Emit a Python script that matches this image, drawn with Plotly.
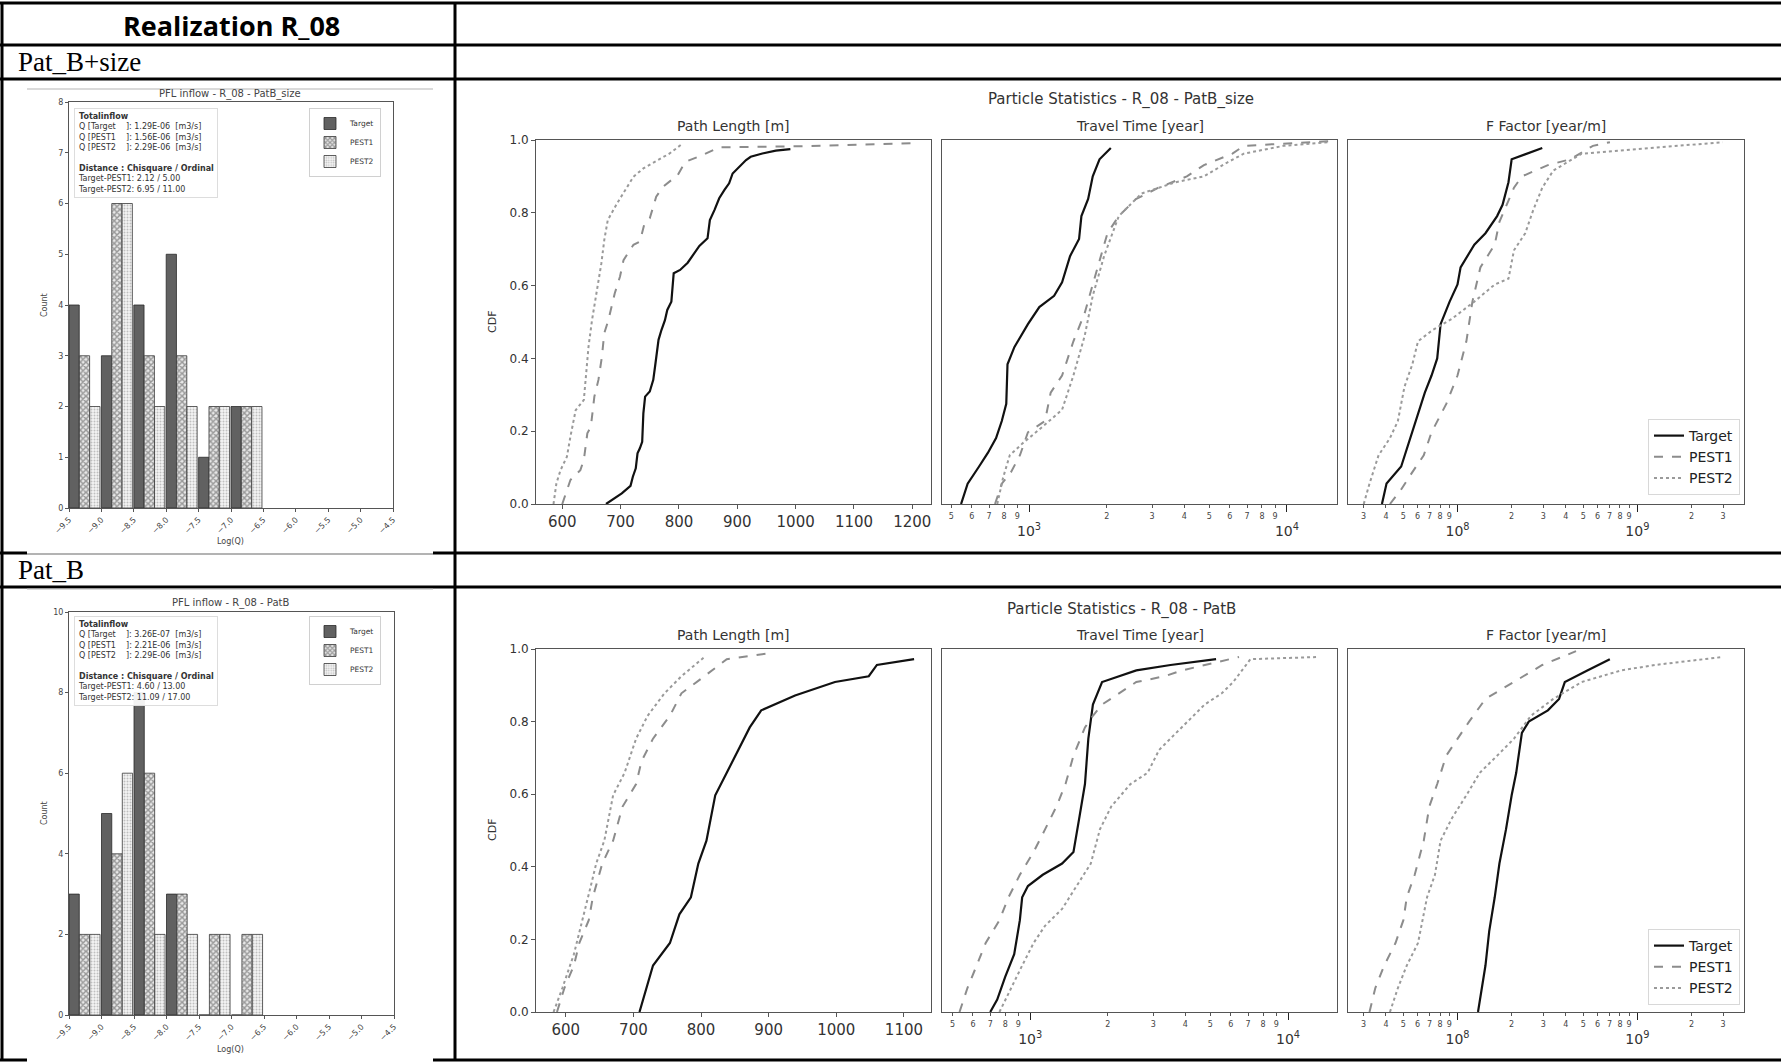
import plotly.graph_objects as go

W, H = 1781, 1062

# ---------------- histogram data ----------------
bins = [-9.5, -9.0, -8.5, -8.0, -7.5, -7.0]
top_target_counts = [4, 3, 4, 5, 1, 2]
top_pest1_counts = [3, 6, 3, 3, 2, 2]
top_pest2_counts = [2, 6, 2, 2, 2, 2]
bot_target_counts = [3, 5, 8, 3, 0, 0]
bot_pest1_counts = [2, 4, 6, 3, 2, 2]
bot_pest2_counts = [2, 6, 2, 2, 2, 2]
hist_ticks = [-9.5, -9.0, -8.5, -8.0, -7.5, -7.0, -6.5, -6.0, -5.5, -5.0, -4.5]

top_q = ["1.29E-06", "1.56E-06", "2.29E-06"]
top_dist = ["2.12 / 5.00", "6.95 / 11.00"]
bot_q = ["3.26E-07", "2.21E-06", "2.29E-06"]
bot_dist = ["4.60 / 13.00", "11.09 / 17.00"]

# ---------------- CDF data: Pat_B+size (top row) ----------------
top_len_target_x = [675, 685, 702, 717, 721, 726, 729, 733, 737, 739, 742, 750, 756, 759, 762, 765, 770, 776, 780, 787, 791, 802, 815, 827, 835, 849, 853, 861, 869, 878, 886, 892, 903, 915, 923, 943, 966, 991]
top_len_target_y = [0.0, 0.011, 0.029, 0.05, 0.075, 0.098, 0.139, 0.153, 0.171, 0.249, 0.295, 0.309, 0.341, 0.377, 0.423, 0.451, 0.478, 0.505, 0.533, 0.556, 0.634, 0.643, 0.663, 0.689, 0.709, 0.73, 0.78, 0.808, 0.84, 0.863, 0.881, 0.908, 0.927, 0.945, 0.954, 0.963, 0.971, 0.975]
top_len_pest1_x = [600, 606, 614, 631, 637, 643, 649, 655, 662, 668, 672, 679, 690, 699, 705, 722, 733, 741, 750, 761, 773, 798, 811, 841, 869, 1011, 1201]
top_len_pest1_y = [0.0, 0.029, 0.066, 0.093, 0.121, 0.194, 0.212, 0.295, 0.341, 0.405, 0.469, 0.505, 0.579, 0.625, 0.67, 0.712, 0.721, 0.771, 0.785, 0.844, 0.872, 0.904, 0.94, 0.959, 0.98, 0.983, 0.991]
top_len_pest2_x = [585, 590, 597, 608, 614, 623, 637, 640, 645, 651, 657, 662, 667, 672, 678, 694, 708, 722, 739, 764, 784, 807]
top_len_pest2_y = [0.0, 0.057, 0.093, 0.13, 0.185, 0.258, 0.286, 0.35, 0.432, 0.505, 0.56, 0.615, 0.661, 0.725, 0.78, 0.826, 0.863, 0.899, 0.922, 0.945, 0.963, 0.991]

top_time_target_x = [545, 578, 640, 693, 745, 784, 816, 825, 877, 990, 1096, 1251, 1343, 1442, 1563, 1596, 1695, 1766, 1876, 2075]
top_time_target_y = [0.0, 0.056, 0.103, 0.141, 0.181, 0.228, 0.275, 0.384, 0.431, 0.494, 0.541, 0.572, 0.609, 0.681, 0.728, 0.791, 0.838, 0.9, 0.947, 0.978]
top_time_pest1_x = [738, 784, 851, 922, 990, 1153, 1213, 1343, 1486, 1644, 1766, 1876, 2014, 2228, 2594, 3177, 4091, 4765, 6146, 6802, 14550]
top_time_pest1_y = [0.0, 0.056, 0.0875, 0.134, 0.197, 0.228, 0.306, 0.353, 0.447, 0.525, 0.603, 0.666, 0.744, 0.791, 0.8375, 0.869, 0.9, 0.931, 0.9625, 0.984, 0.997]
top_time_pest2_x = [753, 793, 842, 942, 1129, 1343, 1486, 1644, 1766, 1954, 2228, 2729, 3699, 4765, 5842, 6802, 9709, 14550]
top_time_pest2_y = [0.0, 0.072, 0.134, 0.166, 0.2125, 0.259, 0.353, 0.4625, 0.572, 0.681, 0.791, 0.853, 0.884, 0.9, 0.9375, 0.9625, 0.984, 0.994]

top_ff_target_x = [3.8e7, 4.03e7, 4.86e7, 5.22e7, 5.61e7, 6.03e7, 6.58e7, 7.17e7, 7.71e7, 8.05e7, 9.04e7, 1.0e8, 1.04e8, 1.24e8, 1.43e8, 1.66e8, 1.78e8, 1.92e8, 2.0e8, 2.96e8]
top_ff_target_y = [0.0, 0.056, 0.103, 0.15, 0.197, 0.244, 0.306, 0.353, 0.4, 0.494, 0.556, 0.603, 0.65, 0.7125, 0.744, 0.791, 0.822, 0.884, 0.947, 0.978]
top_ff_pest1_x = [4.21e7, 4.86e7, 5.61e7, 6.49e7, 7.17e7, 8.66e7, 1.0e8, 1.12e8, 1.21e8, 1.34e8, 1.61e8, 1.71e8, 2.06e8, 2.28e8, 3.18e8, 4.24e8, 5.66e8, 7.04e8]
top_ff_pest1_y = [0.0, 0.04, 0.0875, 0.134, 0.197, 0.275, 0.353, 0.447, 0.556, 0.65, 0.7125, 0.775, 0.869, 0.9, 0.931, 0.947, 0.984, 0.994]
top_ff_pest2_x = [3.01e7, 3.24e7, 3.64e7, 4.21e7, 4.66e7, 5.07e7, 5.61e7, 6.03e7, 7.28e7, 9.31e7, 1.24e8, 1.61e8, 1.92e8, 2.06e8, 2.38e8, 2.63e8, 2.96e8, 3.41e8, 4.9e8, 1.25e9, 2.98e9]
top_ff_pest2_y = [0.0, 0.056, 0.134, 0.181, 0.228, 0.322, 0.384, 0.447, 0.478, 0.509, 0.556, 0.603, 0.619, 0.697, 0.744, 0.806, 0.869, 0.916, 0.9625, 0.978, 0.994]

# ---------------- CDF data: Pat_B (bottom row) ----------------
bot_len_target_x = [709, 729, 754, 768, 785, 796, 808, 821, 838, 855, 872, 889, 909, 939, 998, 1048, 1060, 1115]
bot_len_target_y = [0.0, 0.128, 0.19, 0.269, 0.316, 0.409, 0.472, 0.597, 0.659, 0.722, 0.784, 0.831, 0.847, 0.872, 0.909, 0.925, 0.956, 0.972]
bot_len_pest1_x = [587, 598, 612, 620, 634, 640, 654, 670, 684, 704, 712, 729, 754, 771, 805, 838, 897]
bot_len_pest1_y = [0.0, 0.066, 0.128, 0.19, 0.253, 0.316, 0.409, 0.472, 0.566, 0.628, 0.691, 0.753, 0.816, 0.878, 0.925, 0.972, 0.9875]
bot_len_pest2_x = [582, 595, 612, 625, 637, 645, 657, 670, 687, 704, 721, 746, 771, 805]
bot_len_pest2_y = [0.0, 0.066, 0.159, 0.253, 0.347, 0.409, 0.472, 0.597, 0.659, 0.753, 0.816, 0.878, 0.925, 0.978]

bot_time_target_x = [700, 745, 800, 867, 912, 931, 980, 1119, 1330, 1472, 1550, 1631, 1681, 1751, 1900, 2580, 3502, 5260]
bot_time_target_y = [0.0, 0.034, 0.097, 0.159, 0.253, 0.316, 0.347, 0.378, 0.409, 0.441, 0.534, 0.628, 0.753, 0.847, 0.909, 0.941, 0.956, 0.972]
bot_time_pest1_x = [532, 571, 620, 672, 760, 824, 912, 1031, 1142, 1264, 1371, 1472, 1631, 1751, 1900, 2213, 2580, 3327, 3875, 6455]
bot_time_pest1_y = [0.0, 0.066, 0.128, 0.19, 0.253, 0.316, 0.378, 0.441, 0.503, 0.566, 0.628, 0.706, 0.784, 0.816, 0.847, 0.878, 0.909, 0.925, 0.941, 0.978]
bot_time_pest2_x = [760, 842, 931, 1031, 1142, 1330, 1518, 1718, 1864, 2062, 2449, 2855, 3162, 3875, 4750, 5535, 6130, 7150, 13150]
bot_time_pest2_y = [0.0, 0.066, 0.128, 0.19, 0.2375, 0.284, 0.347, 0.409, 0.503, 0.566, 0.628, 0.659, 0.722, 0.784, 0.847, 0.878, 0.909, 0.972, 0.978]

bot_ff_target_x = [1.30e8, 1.37e8, 1.43e8, 1.50e8, 1.61e8, 1.71e8, 1.86e8, 2.0e8, 2.12e8, 2.21e8, 2.28e8, 2.49e8, 3.18e8, 3.67e8, 3.95e8, 5.27e8, 7.03e8]
bot_ff_target_y = [0.0, 0.066, 0.128, 0.222, 0.316, 0.409, 0.503, 0.597, 0.659, 0.722, 0.769, 0.8, 0.831, 0.8625, 0.909, 0.941, 0.972]
bot_ff_pest1_x = [3.24e7, 3.49e7, 3.91e7, 4.52e7, 5.0e7, 5.22e7, 5.78e7, 6.49e7, 6.97e7, 7.71e7, 8.65e7, 1.0e8, 1.16e8, 1.43e8, 2.06e8, 2.96e8, 4.56e8]
bot_ff_pest1_y = [0.0, 0.066, 0.128, 0.19, 0.253, 0.316, 0.378, 0.472, 0.566, 0.628, 0.706, 0.753, 0.8, 0.8625, 0.909, 0.956, 0.994]
bot_ff_pest2_x = [4.21e7, 4.66e7, 5.22e7, 6.03e7, 6.77e7, 7.49e7, 8.05e7, 9.31e7, 1.12e8, 1.33e8, 1.66e8, 2.06e8, 2.56e8, 3.41e8, 4.9e8, 8.13e8, 1.25e9, 2.98e9]
bot_ff_pest2_y = [0.0, 0.066, 0.128, 0.19, 0.316, 0.378, 0.472, 0.534, 0.597, 0.659, 0.706, 0.753, 0.816, 0.8625, 0.909, 0.941, 0.956, 0.978]

cdf_ticks = [0.0, 0.2, 0.4, 0.6, 0.8, 1.0]
len_ticks = [600, 700, 800, 900, 1000, 1100, 1200]
time_minor_ticks = [500, 600, 700, 800, 900, 2000, 3000, 4000, 5000, 6000, 7000, 8000, 9000]
time_minor_text = ["5", "6", "7", "8", "9", "2", "3", "4", "5", "6", "7", "8", "9"]
time_major_ticks = [1000, 10000]
time_major_text = ["10<sup>3</sup>", "10<sup>4</sup>"]
ff_minor_ticks = [2e7, 3e7, 4e7, 5e7, 6e7, 7e7, 8e7, 9e7, 2e8, 3e8, 4e8, 5e8, 6e8, 7e8, 8e8, 9e8, 2e9, 3e9]
ff_minor_text = ["2", "3", "4", "5", "6", "7", "8", "9", "2", "3", "4", "5", "6", "7", "8", "9", "2", "3"]
ff_major_ticks = [1e8, 1e9]
ff_major_text = ["10<sup>8</sup>", "10<sup>9</sup>"]

# ---------------- helpers ----------------
def fx(px):
    return px / W

def fy(py):
    return 1 - py / H

MPL = "DejaVu Sans"
INK = "#333333"
FRAME = "#555555"

fig = go.Figure()

# ---------------- histograms ----------------
hist_sets = [
    ("x", "y", "legend", top_target_counts, top_pest1_counts, top_pest2_counts),
    ("x2", "y2", "legend2", bot_target_counts, bot_pest1_counts, bot_pest2_counts),
]
for xa, ya, lg, tc, p1, p2 in hist_sets:
    fig.add_trace(go.Bar(x=bins, y=tc, name="Target", xaxis=xa, yaxis=ya, legend=lg,
                         width=0.158, offset=0.0,
                         marker=dict(color="#616161", line=dict(color="#2a2a2a", width=0.8))))
    fig.add_trace(go.Bar(x=bins, y=p1, name="PEST1", xaxis=xa, yaxis=ya, legend=lg,
                         width=0.158, offset=0.16,
                         marker=dict(color="white", line=dict(color="#3a3a3a", width=0.8),
                                     pattern=dict(shape="x", fgcolor="#4a4a4a", bgcolor="#e8e8e8",
                                                  size=4, solidity=0.6))))
    fig.add_trace(go.Bar(x=bins, y=p2, name="PEST2", xaxis=xa, yaxis=ya, legend=lg,
                         width=0.158, offset=0.32,
                         marker=dict(color="white", line=dict(color="#3a3a3a", width=0.8),
                                     pattern=dict(shape=".", fgcolor="#8a8a8a", bgcolor="#f4f4f4",
                                                  size=3, solidity=0.35))))

# ---------------- CDF curves ----------------
series_style = {
    "Target": dict(color="#111111", width=2.2, dash="solid"),
    "PEST1": dict(color="#8c8c8c", width=2.0, dash="dash"),
    "PEST2": dict(color="#9a9a9a", width=2.0, dash="dot"),
}
cdf_panels = [
    ("x3", "y3", "legend3", [(top_len_target_x, top_len_target_y), (top_len_pest1_x, top_len_pest1_y), (top_len_pest2_x, top_len_pest2_y)]),
    ("x4", "y4", "legend3", [(top_time_target_x, top_time_target_y), (top_time_pest1_x, top_time_pest1_y), (top_time_pest2_x, top_time_pest2_y)]),
    ("x5", "y5", "legend3", [(top_ff_target_x, top_ff_target_y), (top_ff_pest1_x, top_ff_pest1_y), (top_ff_pest2_x, top_ff_pest2_y)]),
    ("x6", "y6", "legend4", [(bot_len_target_x, bot_len_target_y), (bot_len_pest1_x, bot_len_pest1_y), (bot_len_pest2_x, bot_len_pest2_y)]),
    ("x7", "y7", "legend4", [(bot_time_target_x, bot_time_target_y), (bot_time_pest1_x, bot_time_pest1_y), (bot_time_pest2_x, bot_time_pest2_y)]),
    ("x8", "y8", "legend4", [(bot_ff_target_x, bot_ff_target_y), (bot_ff_pest1_x, bot_ff_pest1_y), (bot_ff_pest2_x, bot_ff_pest2_y)]),
]
for i, (xa, ya, lg, curves) in enumerate(cdf_panels):
    show = xa in ("x5", "x8")
    for name, (cx, cy) in zip(["Target", "PEST1", "PEST2"], curves):
        fig.add_trace(go.Scatter(x=cx, y=cy, mode="lines", name=name, xaxis=xa, yaxis=ya,
                                 legend=lg, showlegend=show, line=series_style[name]))

# empty carrier traces for the decade-label overlay axes
for xa, ya in [("x9", "y4"), ("x10", "y5"), ("x11", "y7"), ("x12", "y8")]:
    fig.add_trace(go.Scatter(x=[], y=[], xaxis=xa, yaxis=ya, showlegend=False, hoverinfo="skip"))

# ---------------- axes ----------------
lay = dict(width=W, height=H, margin=dict(l=0, r=0, t=0, b=0, autoexpand=False),
           paper_bgcolor="white", plot_bgcolor="rgba(0,0,0,0)", showlegend=True,
           font=dict(family=MPL, color=INK), barmode="overlay")

frame = dict(showline=True, mirror=True, linecolor=FRAME, linewidth=1, showgrid=False,
             zeroline=False, ticks="outside", tickcolor=FRAME, automargin=False)

# histogram axes
lay["xaxis"] = dict(frame, domain=[fx(69), fx(393)], anchor="y", range=[-9.5, -4.5],
                    tickvals=hist_ticks, tickformat=".1f", tickangle=-45, ticklen=3,
                    tickfont=dict(size=8, color="#444"))
lay["yaxis"] = dict(frame, domain=[fy(508), fy(102)], anchor="x", range=[0, 8], dtick=1,
                    ticklen=3, tickfont=dict(size=8, color="#444"))
lay["xaxis2"] = dict(frame, domain=[fx(69), fx(394)], anchor="y2", range=[-9.5, -4.5],
                     tickvals=hist_ticks, tickformat=".1f", tickangle=-45, ticklen=3,
                     tickfont=dict(size=8, color="#444"))
lay["yaxis2"] = dict(frame, domain=[fy(1015), fy(612)], anchor="x2", range=[0, 10], dtick=2,
                     ticklen=3, tickfont=dict(size=8, color="#444"))

# CDF axes
col_px = [(536, 931), (942, 1337), (1348, 1744)]
row_py = [(140, 504), (649, 1012)]
log_minor = {"time": (time_minor_ticks, time_minor_text), "ff": (ff_minor_ticks, ff_minor_text)}
log_major = {"time": (time_major_ticks, time_major_text), "ff": (ff_major_ticks, ff_major_text)}
xspec = [
    ("lin", [555, 1232]),
    ("time", [2.6625, 4.194]),
    ("ff", [7.391, 9.593]),
    ("lin", [556, 1140]),
    ("time", [2.658, 4.19]),
    ("ff", [7.391, 9.593]),
]
overlay_id = {1: 9, 2: 10, 4: 11, 5: 12}
for k in range(6):
    r, c = divmod(k, 3)
    n = k + 3
    x0, x1 = col_px[c]
    y0, y1 = row_py[r]
    kind, rng = xspec[k]
    if kind == "lin":
        lay["xaxis%d" % n] = dict(frame, domain=[fx(x0), fx(x1)], anchor="y%d" % n, ticklen=4,
                                  tickangle=0, range=rng, tickvals=len_ticks,
                                  tickfont=dict(size=15, color=INK))
    else:
        tv, tt = log_minor[kind]
        lay["xaxis%d" % n] = dict(frame, domain=[fx(x0), fx(x1)], anchor="y%d" % n, ticklen=3,
                                  type="log", range=rng, tickvals=tv, ticktext=tt, tickangle=0,
                                  ticklabelstandoff=1, tickfont=dict(size=8, color="#444"))
        mv, mt = log_major[kind]
        m = overlay_id[k]
        lay["xaxis%d" % m] = dict(overlaying="x%d" % n, anchor="y%d" % n, side="bottom",
                                  type="log", range=rng, tickvals=mv, ticktext=mt,
                                  showline=False, showgrid=False, zeroline=False,
                                  ticks="outside", ticklen=7, tickcolor="#222", tickwidth=1.3,
                                  ticklabelstandoff=7, tickangle=0, automargin=False,
                                  tickfont=dict(size=14, color=INK))
    yd = dict(frame, domain=[fy(y1), fy(y0)], anchor="x%d" % n, range=[0, 1],
              tickvals=cdf_ticks, tickformat=".1f", ticklen=4,
              tickfont=dict(size=12, color=INK))
    if c > 0:
        yd.update(showticklabels=False, ticks="")
    lay["yaxis%d" % n] = yd

# legends
for key, ytop in [("legend", 108), ("legend2", 616)]:
    lay[key] = dict(x=fx(381), y=fy(ytop), xanchor="right", yanchor="top",
                    bgcolor="rgba(255,255,255,0.9)", bordercolor="#d0d0d0", borderwidth=1,
                    font=dict(size=7.5, color="#333"), tracegroupgap=0, itemwidth=30)
lay["legend3"] = dict(x=fx(1740), y=fy(495), xanchor="right", yanchor="bottom",
                      bgcolor="white", bordercolor="#d8d8d8", borderwidth=1,
                      font=dict(size=14, color="#222"))
lay["legend4"] = dict(x=fx(1740), y=fy(1005), xanchor="right", yanchor="bottom",
                      bgcolor="white", bordercolor="#d8d8d8", borderwidth=1,
                      font=dict(size=14, color="#222"))

# ---------------- table shapes ----------------
shapes = []
def line(x0, y0, x1, y1, color="black", width=3):
    shapes.append(dict(type="line", xref="paper", yref="paper", x0=fx(x0), y0=fy(y0),
                       x1=fx(x1), y1=fy(y1), line=dict(color=color, width=width), layer="below"))

for yy in [3, 45, 79, 553, 587, 1060]:
    line(0, yy, W, yy)
line(2, 3, 2, 1060)
line(455, 3, 455, 1060)
# embedded left pictures (white, thin grey top edge)
for (t, b) in [(89, 555), (589, 1062)]:
    shapes.append(dict(type="rect", xref="paper", yref="paper", x0=fx(27), x1=fx(433),
                       y0=fy(b), y1=fy(t), fillcolor="white", line=dict(width=0), layer="below"))
    line(27, t, 433, t, color="#b5b5b5", width=1)
line(27, 554, 433, 554, color="#9a9a9a", width=1.5)
lay["shapes"] = shapes

# ---------------- annotations ----------------
ann = []
def text(x, y, s, size, color=INK, family=MPL, xanchor="center", yanchor="middle", **kw):
    ann.append(dict(x=fx(x), y=fy(y), xref="paper", yref="paper", text=s, showarrow=False,
                    xanchor=xanchor, yanchor=yanchor, font=dict(size=size, color=color, family=family), **kw))

text(231, 25, "<b>Realization R_08</b>", 27, color="black", family="Open Sans")
text(16, 62, "Pat_B+size", 27, color="black", family="Liberation Serif", xanchor="left")
text(16, 570, "Pat_B", 27, color="black", family="Liberation Serif", xanchor="left")

# histogram titles and labels
text(230, 94, "PFL inflow - R_08 - PatB_size", 10, color="#444")
text(230, 603, "PFL inflow - R_08 - PatB", 10, color="#444")
text(44, 305, "Count", 8, color="#444", textangle=-90)
text(44, 813, "Count", 8, color="#444", textangle=-90)
text(230, 541, "Log(Q)", 8, color="#444")
text(230, 1049, "Log(Q)", 8, color="#444")

NB = "\u00a0"
def info(q, d):
    return ("<b>Totalinflow</b><br>"
            "Q [Target" + NB * 4 + "]: " + q[0] + NB * 2 + "[m3/s]<br>"
            "Q [PEST1" + NB * 4 + "]: " + q[1] + NB * 2 + "[m3/s]<br>"
            "Q [PEST2" + NB * 4 + "]: " + q[2] + NB * 2 + "[m3/s]<br> <br>"
            "<b>Distance : Chisquare / Ordinal</b><br>"
            "Target-PEST1: " + d[0] + "<br>"
            "Target-PEST2: " + d[1])
text(74, 108, info(top_q, top_dist), 8, color="#333", xanchor="left", yanchor="top",
     align="left", bgcolor="rgba(255,255,255,0.92)", bordercolor="#dddddd", borderwidth=1, borderpad=3)
text(74, 616, info(bot_q, bot_dist), 8, color="#333", xanchor="left", yanchor="top",
     align="left", bgcolor="rgba(255,255,255,0.92)", bordercolor="#dddddd", borderwidth=1, borderpad=3)

# CDF titles
text(1121, 100, "Particle Statistics - R_08 - PatB_size", 15)
text(1121, 609, "Particle Statistics - R_08 - PatB", 15)
sub = ["Path Length [m]", "Travel Time [year]", "F Factor [year/m]"]
for (x0, x1), s in zip(col_px, sub):
    text((x0 + x1) / 2, 126, s, 14)
    text((x0 + x1) / 2, 635, s, 14)
text(492, 322, "CDF", 11, textangle=-90)
text(492, 830, "CDF", 11, textangle=-90)

lay["annotations"] = ann
fig.update_layout(**lay)
fig.write_html("out.html")
